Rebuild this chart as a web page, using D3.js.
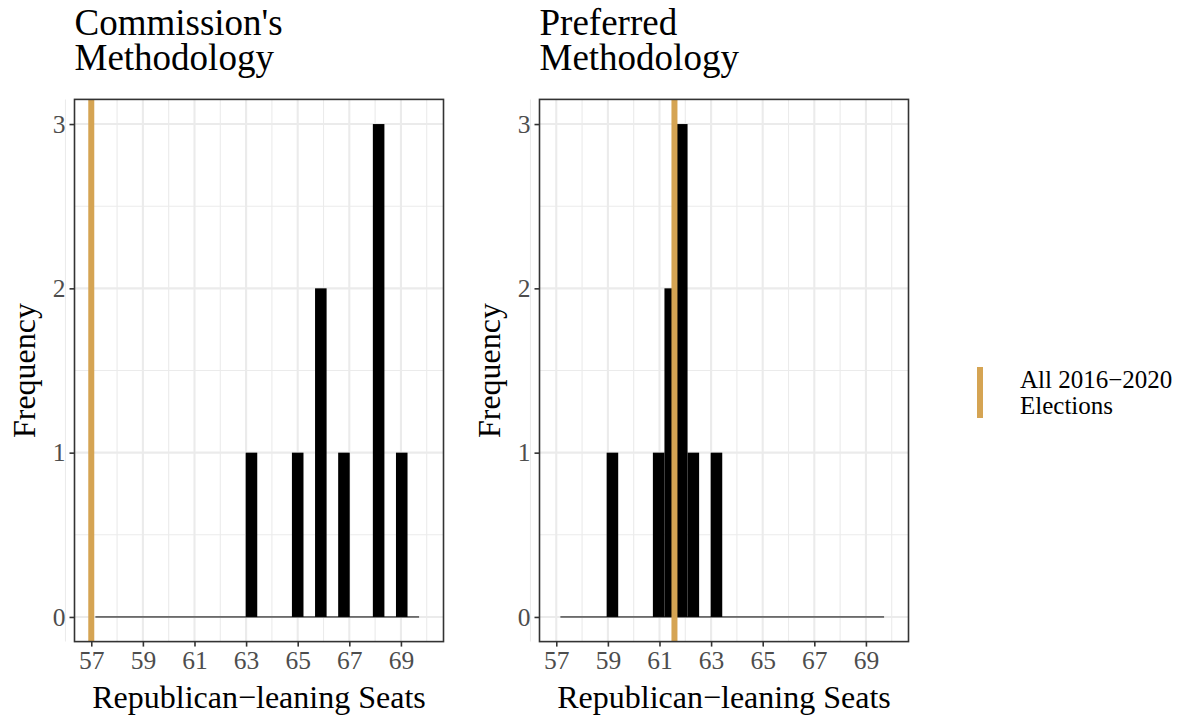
<!DOCTYPE html>
<html>
<head>
<meta charset="utf-8">
<script src="https://cdn.jsdelivr.net/npm/d3@7"></script>
<style>
  body { margin: 0; background: #fff; }
  svg { display: block; font-family: "Liberation Serif", "Times New Roman", serif; }
</style>
</head>
<body>
<svg id="chart" width="1190" height="719"></svg>
<script>
// histogram bins, shared by both panels
const binStart = 57.16;
const binWidth = 0.448;
// counts per bin (28 bins)
const commissionCounts = [0,0,0,0,0,0,0,0,0,0,0,0,0,1,0,0,0,1,0,2,0,1,0,0,3,0,1,0];
const preferredCounts  = [0,0,0,0,1,0,0,0,1,2,3,1,0,1,0,0,0,0,0,0,0,0,0,0,0,0,0,0];
const panelTitles = [["Commission's", "Methodology"], ["Preferred", "Methodology"]];
const referenceLines = [57, 61.58];
const xTicks = [57, 59, 61, 63, 65, 67, 69];
const xMinor = [56, 58, 60, 62, 64, 66, 68, 70];
const yTicks = [0, 1, 2, 3];
const yMinor = [0.5, 1.5, 2.5];
const xRange = [57, 70];
const legendLabel = ["All 2016\u22122020", "Elections"];

const gold = '#D5A453';
const gridCol = '#EBEBEB';
const darkCol = '#333333';

const svg = d3.select('#chart');

const panels = [
  { counts: commissionCounts, title: panelTitles[0], vline: referenceLines[0], x0: 74.5, x1: 443.5 },
  { counts: preferredCounts,  title: panelTitles[1], vline: referenceLines[1], x0: 539.5, x1: 908.5 }
];
const panelTop = 99.4, panelBottom = 641.6;

const pad = (xRange[1] - xRange[0]) * 0.05;
const yScale = d3.scaleLinear().domain([-0.15, 3.15]).range([panelBottom, panelTop]);

panels.forEach((p, pi) => {
  const x = d3.scaleLinear().domain([xRange[0] - pad, xRange[1] + pad]).range([p.x0, p.x1]);
  const g = svg.append('g');

  // grid
  g.selectAll('.vminor').data(xMinor).enter().append('line')
    .attr('x1', d => x(d)).attr('x2', d => x(d))
    .attr('y1', panelTop).attr('y2', panelBottom)
    .attr('stroke', gridCol).attr('stroke-width', 1.1);
  g.selectAll('.hminor').data(yMinor).enter().append('line')
    .attr('x1', p.x0).attr('x2', p.x1)
    .attr('y1', d => yScale(d)).attr('y2', d => yScale(d))
    .attr('stroke', gridCol).attr('stroke-width', 1.1);
  g.selectAll('.vmajor').data(xTicks).enter().append('line')
    .attr('x1', d => x(d)).attr('x2', d => x(d))
    .attr('y1', panelTop).attr('y2', panelBottom)
    .attr('stroke', gridCol).attr('stroke-width', 2.1);
  g.selectAll('.hmajor').data(yTicks).enter().append('line')
    .attr('x1', p.x0).attr('x2', p.x1)
    .attr('y1', d => yScale(d)).attr('y2', d => yScale(d))
    .attr('stroke', gridCol).attr('stroke-width', 2.1);

  // histogram
  const bins = p.counts.map((c, i) => ({ x0: binStart + i * binWidth, x1: binStart + (i + 1) * binWidth, n: c }));
  g.append('line')
    .attr('x1', x(bins[0].x0)).attr('x2', x(bins[bins.length - 1].x1))
    .attr('y1', yScale(0)).attr('y2', yScale(0))
    .attr('stroke', '#000').attr('stroke-width', 1);
  g.selectAll('.bar').data(bins.filter(b => b.n > 0)).enter().append('rect')
    .attr('x', b => x(b.x0))
    .attr('width', b => x(b.x1) - x(b.x0))
    .attr('y', b => yScale(b.n))
    .attr('height', b => yScale(0) - yScale(b.n))
    .attr('fill', '#000');

  // reference line
  g.append('line')
    .attr('x1', x(p.vline)).attr('x2', x(p.vline))
    .attr('y1', panelTop).attr('y2', panelBottom)
    .attr('stroke', gold).attr('stroke-width', 6);

  // border
  g.append('rect')
    .attr('x', p.x0).attr('y', panelTop)
    .attr('width', p.x1 - p.x0).attr('height', panelBottom - panelTop)
    .attr('fill', 'none').attr('stroke', darkCol).attr('stroke-width', 1.6);

  // axes
  const xAxis = g.append('g').attr('transform', `translate(0,${panelBottom})`)
    .call(d3.axisBottom(x).tickValues(xTicks).tickSize(5).tickPadding(4).tickFormat(d3.format('d')));
  const yAxis = g.append('g').attr('transform', `translate(${p.x0},0)`)
    .call(d3.axisLeft(yScale).tickValues(yTicks).tickSize(5).tickPadding(4).tickFormat(d3.format('d')));
  [xAxis, yAxis].forEach(a => {
    a.select('.domain').remove();
    a.selectAll('.tick line').attr('stroke', darkCol).attr('stroke-width', 1.6);
    a.selectAll('.tick text').attr('fill', '#4D4D4D')
      .style('font-size', '25.5px').style('font-family', '"Liberation Serif", serif');
  });
  xAxis.selectAll('.tick text').attr('dy', '0.71em');

  // axis titles
  g.append('text')
    .attr('x', (p.x0 + p.x1) / 2).attr('y', 708)
    .attr('text-anchor', 'middle')
    .style('font-size', '32px')
    .text('Republican\u2212leaning Seats');
  g.append('text')
    .attr('transform', `translate(${p.x0 - 40},${(panelTop + panelBottom) / 2}) rotate(-90)`)
    .attr('text-anchor', 'middle')
    .style('font-size', '32px')
    .text('Frequency');

  // panel title
  const t = g.append('text').attr('x', p.x0).attr('y', 35).style('font-size', '37px');
  p.title.forEach((line, i) => {
    t.append('tspan').attr('x', p.x0).attr('dy', i === 0 ? 0 : 35).text(line);
  });
});

// legend
const leg = svg.append('g');
leg.append('line')
  .attr('x1', 980).attr('x2', 980).attr('y1', 367).attr('y2', 418)
  .attr('stroke', gold).attr('stroke-width', 6);
const lt = leg.append('text').attr('x', 1020).attr('y', 388).style('font-size', '25px');
legendLabel.forEach((line, i) => {
  lt.append('tspan').attr('x', 1020).attr('dy', i === 0 ? 0 : 26).text(line);
});
</script>
</body>
</html>
